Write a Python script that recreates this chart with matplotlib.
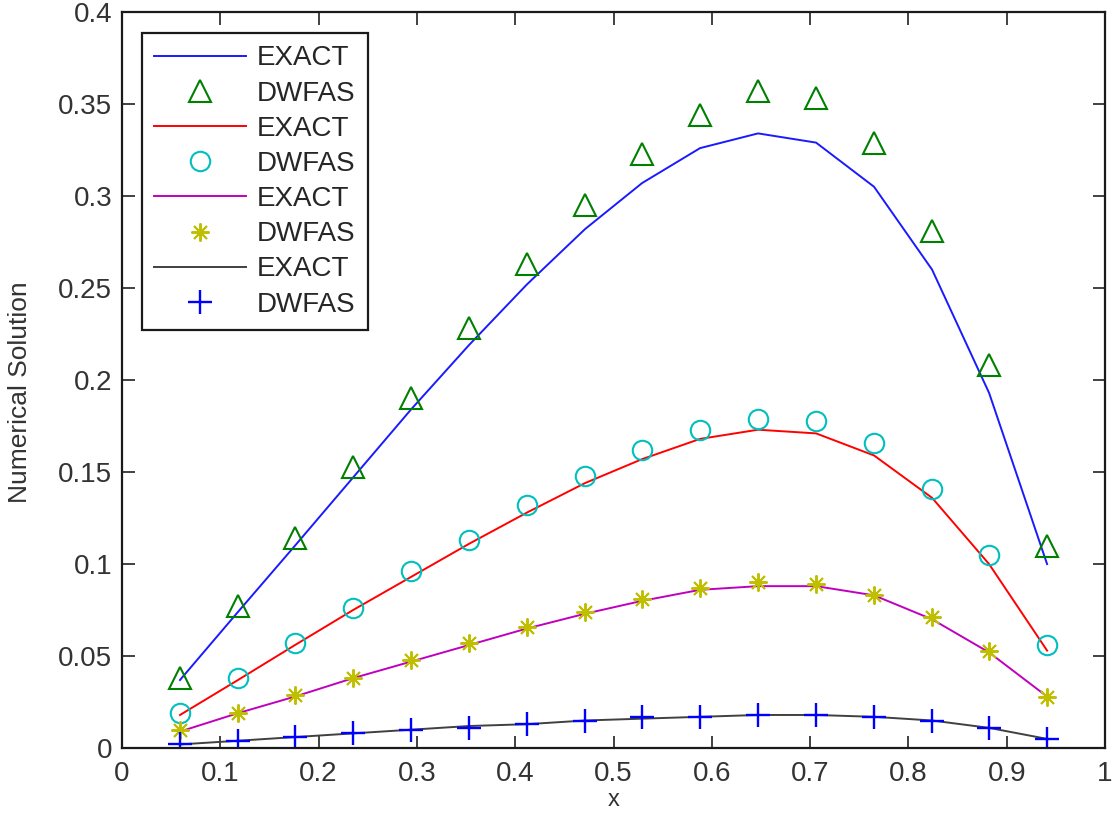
import matplotlib
matplotlib.use('Agg')
import matplotlib.pyplot as plt

# grid points (h = 1/17)
x = [0.059, 0.118, 0.176, 0.235, 0.294, 0.353, 0.412, 0.471,
     0.529, 0.588, 0.647, 0.706, 0.765, 0.824, 0.882, 0.941]

exact1 = [0.037, 0.074, 0.110, 0.147, 0.184, 0.219, 0.252, 0.282,
          0.307, 0.326, 0.334, 0.329, 0.305, 0.260, 0.193, 0.100]
dwfas1 = [0.038, 0.077, 0.114, 0.153, 0.190, 0.228, 0.263, 0.295,
          0.323, 0.344, 0.357, 0.353, 0.329, 0.281, 0.208, 0.110]

exact2 = [0.018, 0.037, 0.056, 0.075, 0.093, 0.111, 0.128, 0.144,
          0.157, 0.168, 0.173, 0.171, 0.159, 0.136, 0.100, 0.053]
dwfas2 = [0.019, 0.038, 0.057, 0.076, 0.096, 0.113, 0.132, 0.148,
          0.162, 0.173, 0.179, 0.178, 0.166, 0.141, 0.105, 0.056]

exact3 = [0.009, 0.019, 0.028, 0.038, 0.047, 0.056, 0.065, 0.073,
          0.080, 0.086, 0.088, 0.088, 0.083, 0.070, 0.052, 0.028]
dwfas3 = [0.010, 0.019, 0.029, 0.038, 0.048, 0.057, 0.066, 0.074,
          0.081, 0.087, 0.090, 0.089, 0.083, 0.071, 0.053, 0.028]

exact4 = [0.002, 0.004, 0.006, 0.008, 0.010, 0.012, 0.013, 0.015,
          0.016, 0.017, 0.018, 0.018, 0.017, 0.015, 0.011, 0.005]
dwfas4 = [0.002, 0.004, 0.006, 0.008, 0.010, 0.011, 0.013, 0.015,
          0.017, 0.017, 0.018, 0.018, 0.017, 0.015, 0.011, 0.005]

xticks = [0, 0.1, 0.2, 0.3, 0.4, 0.5, 0.6, 0.7, 0.8, 0.9, 1]
xticklabels = ['0', '0.1', '0.2', '0.3', '0.4', '0.5', '0.6', '0.7', '0.8', '0.9', '1']
yticks = [0, 0.05, 0.1, 0.15, 0.2, 0.25, 0.3, 0.35, 0.4]
yticklabels = ['0', '0.05', '0.1', '0.15', '0.2', '0.25', '0.3', '0.35', '0.4']

plt.rcParams['font.family'] = ['Liberation Sans', 'DejaVu Sans']

fig = plt.figure(figsize=(11.14, 8.23), dpi=100)
ax = fig.add_axes([0.1095, 0.091, 0.8825, 0.8945])

ax.plot(x, exact1, color='#1a1aff', lw=1.4, label='EXACT')
ax.plot(x, dwfas1, ls='none', marker='^', ms=16, mfc='none', mec='#008000', mew=1.5, label='DWFAS')
ax.plot(x, exact2, color='#ff0000', lw=1.4, label='EXACT')
ax.plot(x, dwfas2, ls='none', marker='o', ms=14, mfc='none', mec='#00bfbf', mew=1.5, label='DWFAS')
ax.plot(x, exact3, color='#bf00bf', lw=1.4, label='EXACT')
ax.plot(x, dwfas3, ls='none', marker=(8, 2, 0), ms=13, mec='#bfbf00', mew=1.4, label='DWFAS')
ax.plot(x, exact4, color='#404040', lw=1.4, label='EXACT')
ax.plot(x, dwfas4, ls='none', marker='+', ms=17, mec='#0000ff', mew=1.7, label='DWFAS')

ax.set_xlim(0, 1)
ax.set_ylim(0, 0.4)
ax.set_xticks(xticks)
ax.set_xticklabels(xticklabels)
ax.set_yticks(yticks)
ax.set_yticklabels(yticklabels)
ax.tick_params(direction='in', top=True, right=True, length=9, width=1.3,
               labelsize=20, colors='#333333')
ax.tick_params(axis='y', pad=7)
ax.tick_params(axis='x', pad=9)
for spine in ax.spines.values():
    spine.set_linewidth(1.6)
    spine.set_color('#1a1a1a')

ax.set_xlabel('x', fontsize=17, color='#333333')
ax.xaxis.set_label_coords(0.5, -0.055)
ax.set_ylabel('Numerical Solution', fontsize=19, color='#333333')
ax.yaxis.set_label_coords(-0.092, 0.483)

# legend, 8 entries, top-left
leg = ax.legend(loc='upper left', bbox_to_anchor=(0.0203, 0.9715), borderaxespad=0,
                fontsize=20, handlelength=3.3, handletextpad=0.38, labelspacing=0.33,
                borderpad=0.45, fancybox=False, framealpha=1, edgecolor='#1a1a1a')
leg.get_frame().set_linewidth(1.6)
for t in leg.get_texts():
    t.set_color('#262626')

fig.savefig('out.png', dpi=100, facecolor='white')
